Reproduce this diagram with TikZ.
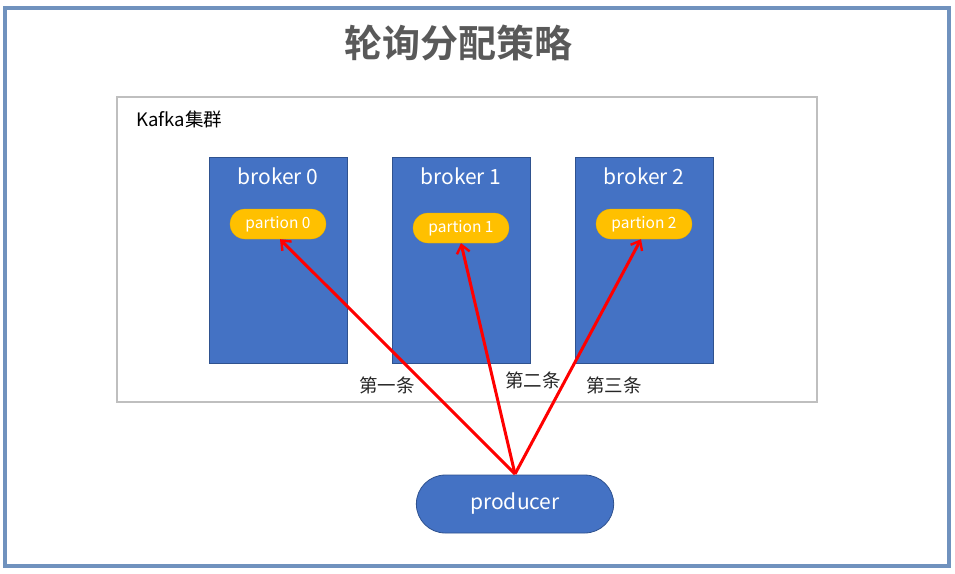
\documentclass[tikz,border=0pt]{standalone}
\usepackage{fontspec}
\setmainfont{Noto Sans CJK SC}
\newfontfamily\titlefont{Noto Sans CJK SC}[BoldFont={* Bold}]
\usetikzlibrary{shapes.misc,arrows.meta}
\definecolor{frameblue}{HTML}{7092BE}
\definecolor{brokerblue}{HTML}{4472C4}
\definecolor{brokeredge}{HTML}{2F528F}
\definecolor{partgold}{HTML}{FFC000}
\definecolor{titlegray}{HTML}{595959}
\definecolor{clustergray}{HTML}{BFBFBF}
\tikzset{
  brokerbox/.style={draw=brokeredge, fill=brokerblue, line width=0.8pt, minimum width=138pt, minimum height=206pt, inner sep=0pt},
  partbox/.style={rounded rectangle, fill=partgold, draw=partgold!90!black, line width=0.3pt, minimum width=96pt, minimum height=30pt, inner sep=0pt, text=white, font=\fontsize{15.5}{17}\selectfont},
  brokerlabel/.style={text=white, font=\fontsize{21}{23}\selectfont},
  sendarrow/.style={draw=red, line width=3pt, -{Straight Barb[length=8pt,width=13pt,line width=2.4pt]}},
  countlabel/.style={text=black!85, font=\fontsize{18.5}{20}\selectfont}
}
\begin{document}
\begin{tikzpicture}[x=1pt,y=-1pt]
\useasboundingbox (0,0) rectangle (955,573);
\fill[white] (0,0) rectangle (955,573);
\draw[frameblue, line width=4.5pt] (5,8) rectangle (949,566);
\node[text=titlegray, font=\titlefont\bfseries\fontsize{38}{42}\selectfont] (title) at (458,43) {轮询分配策略};
\draw[clustergray, line width=1.5pt] (117,97) rectangle (817,402);
\node[anchor=west, font=\fontsize{18.5}{20}\selectfont] (cluster) at (133,119) {Kafka集群};
\node[brokerbox] (b0) at (278,260) {};
\node[brokerbox] (b1) at (461,260) {};
\node[brokerbox] (b2) at (644,260) {};
\node[brokerlabel] (b0l) at (278,176) {broker 0};
\node[brokerlabel] (b1l) at (461,176) {broker 1};
\node[brokerlabel] (b2l) at (644,176) {broker 2};
\node[partbox] (p0) at (278,224) {partion 0};
\node[partbox] (p1) at (461,228) {partion 1};
\node[partbox] (p2) at (644,224) {partion 2};
\node[rounded rectangle, draw=brokeredge, fill=brokerblue, line width=0.8pt, minimum width=204pt, minimum height=58pt, text=white, font=\fontsize{21}{23}\selectfont] (prod) at (515,504) {producer};
\coordinate (src) at (515,474);
\draw[sendarrow] (src) -- (p0.south -| 280,0) ;
\draw[sendarrow] (src) -- (p1.south);
\draw[sendarrow] (src) -- (p2.south -| 641,0);
\node[countlabel] (c1) at (387,385) {第一条};
\node[countlabel] (c2) at (533,380) {第二条};
\node[countlabel] (c3) at (614,385) {第三条};
\end{tikzpicture}
\end{document}
